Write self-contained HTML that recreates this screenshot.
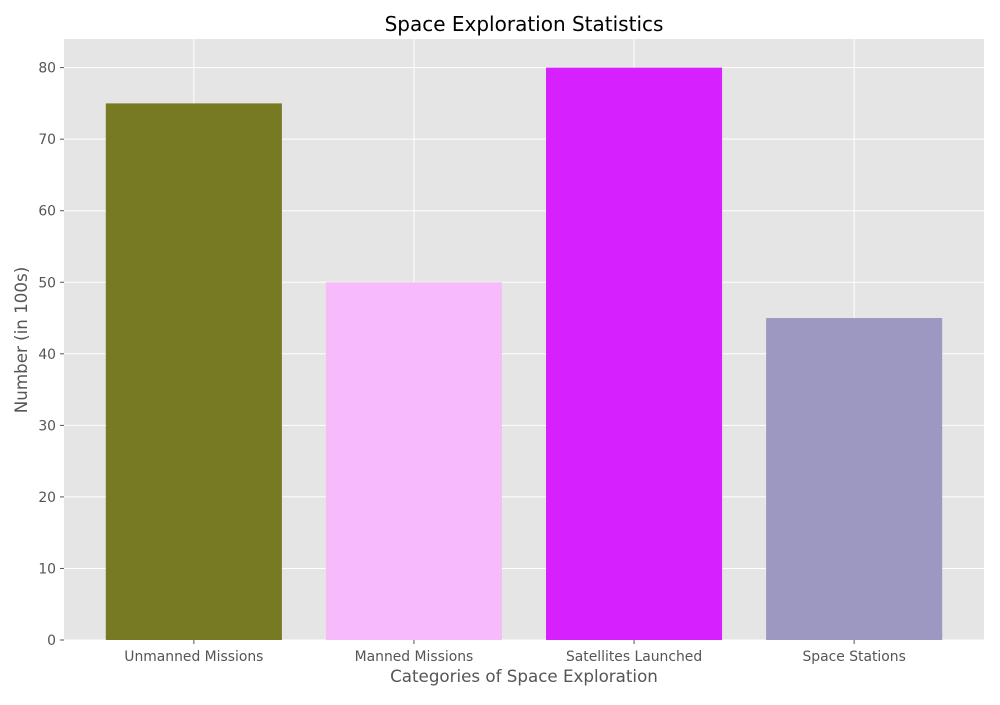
<!DOCTYPE html>
<html><head><meta charset="utf-8"><style>
body{margin:0;background:#fff;}
svg text{font-family:"DejaVu Sans","Liberation Sans",sans-serif;}
</style></head><body>
<svg id="chart" width="1000" height="700" xmlns="http://www.w3.org/2000/svg">
<rect x="0" y="0" width="1000" height="700" fill="#fff"/>
<text x="524" y="31" text-anchor="middle" font-size="20" fill="#000">Space Exploration Statistics</text>
<rect x="64" y="39" width="920" height="601" fill="#e5e5e5"/>
<g id="grid"></g><g id="bars"></g><g id="ticks"></g>
<text x="524" y="682" text-anchor="middle" font-size="16.7" fill="#555">Categories of Space Exploration</text>
<text transform="translate(27,340) rotate(-90)" text-anchor="middle" font-size="16.7" fill="#555">Number (in 100s)</text>
</svg>
<script>
const categories=["Unmanned Missions","Manned Missions","Satellites Launched","Space Stations"];
const values=[75,50,80,45];
const colors=["#777a22","#f7bbfc","#d620fe","#9c98c2"];
const yTicks=[0,10,20,30,40,50,60,70,80];
const NS="http://www.w3.org/2000/svg";
const L=64,R=984,T=39,B=640,yMax=84,xMin=-0.59,xMax=3.59;
const xs=v=>L+(v-xMin)/(xMax-xMin)*(R-L);
const ys=v=>B-v/yMax*(B-T);
function mk(tag,a,p){const e=document.createElementNS(NS,tag);for(const k in a)e.setAttribute(k,a[k]);p.appendChild(e);return e;}
const grid=document.getElementById('grid'),bars=document.getElementById('bars'),ticks=document.getElementById('ticks');
yTicks.forEach(t=>{
 const y=ys(t);
 const g=mk('line',{x1:L,x2:R,y1:y,y2:y,stroke:'#fff','stroke-width':1},grid);
 
 
 mk('line',{x1:L-4,x2:L,y1:y,y2:y,stroke:'#555'},ticks);
 const tx=mk('text',{x:L-8,y:y+5,'text-anchor':'end','font-size':13.9,fill:'#555'},ticks);
 tx.textContent=t;
 
 
});
categories.forEach((c,i)=>{
 const x=xs(i);
 const g=mk('line',{x1:x,x2:x,y1:T,y2:B,stroke:'#fff','stroke-width':1},grid);
 
 
 const w=xs(0.4)-xs(-0.4);
 const b=mk('rect',{x:x-w/2,y:ys(values[i]),width:w,height:ys(0)-ys(values[i]),fill:colors[i]},bars);
 
 
 mk('line',{x1:x,x2:x,y1:B,y2:B+4,stroke:'#555'},ticks);
 const tx=mk('text',{x:x,y:B+21,'text-anchor':'middle','font-size':13.9,fill:'#555'},ticks);
 tx.textContent=c;
 
 
});
</script>
</body></html>
